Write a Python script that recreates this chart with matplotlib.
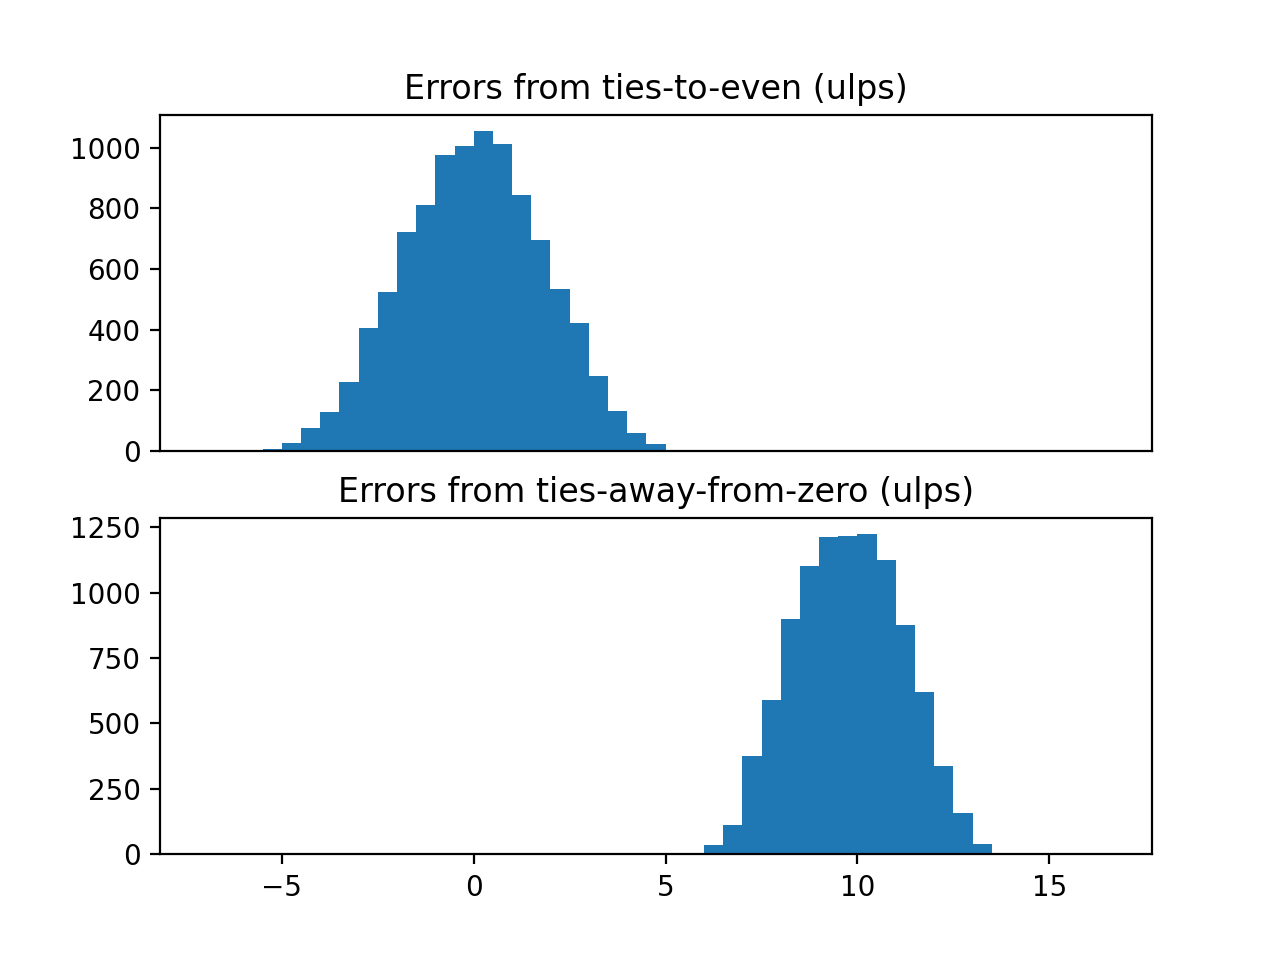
import numpy as np
import matplotlib
matplotlib.use('Agg')
import matplotlib.pyplot as plt

# bin edges: -7 .. 16.5, width 0.5
bin_lo = -7.0
bin_hi = 16.5
bin_w = 0.5

# counts for top histogram, bins starting at -5.5
even_start = -5.5
even_counts = [6, 27, 77, 129, 229, 407, 526, 723, 812, 977, 1004,
               1054, 1011, 845, 694, 535, 423, 249, 133, 60, 24]

# counts for bottom histogram, bins starting at 6.0
away_start = 6.0
away_counts = [35, 111, 377, 591, 900, 1103, 1213, 1216, 1222, 1126,
               877, 620, 338, 158, 38]

titles = ["Errors from ties-to-even (ulps)",
          "Errors from ties-away-from-zero (ulps)"]

edges = np.arange(bin_lo, bin_hi + bin_w / 2, bin_w)


def full_counts(start, counts):
    # put the read counts into the full bin grid, zero elsewhere
    out = np.zeros(len(edges) - 1)
    i0 = int(round((start - bin_lo) / bin_w))
    out[i0:i0 + len(counts)] = counts
    return out


centers = edges[:-1] + bin_w / 2

fig, (ax1, ax2) = plt.subplots(2, 1, sharex=True, figsize=(6.4, 4.8), dpi=200)

ax1.hist(centers, bins=edges, weights=full_counts(even_start, even_counts))
ax1.set_title(titles[0])
ax1.tick_params(axis='x', bottom=False, labelbottom=False)

ax2.hist(centers, bins=edges, weights=full_counts(away_start, away_counts))
ax2.set_title(titles[1])

plt.savefig('out.png', dpi=200)
